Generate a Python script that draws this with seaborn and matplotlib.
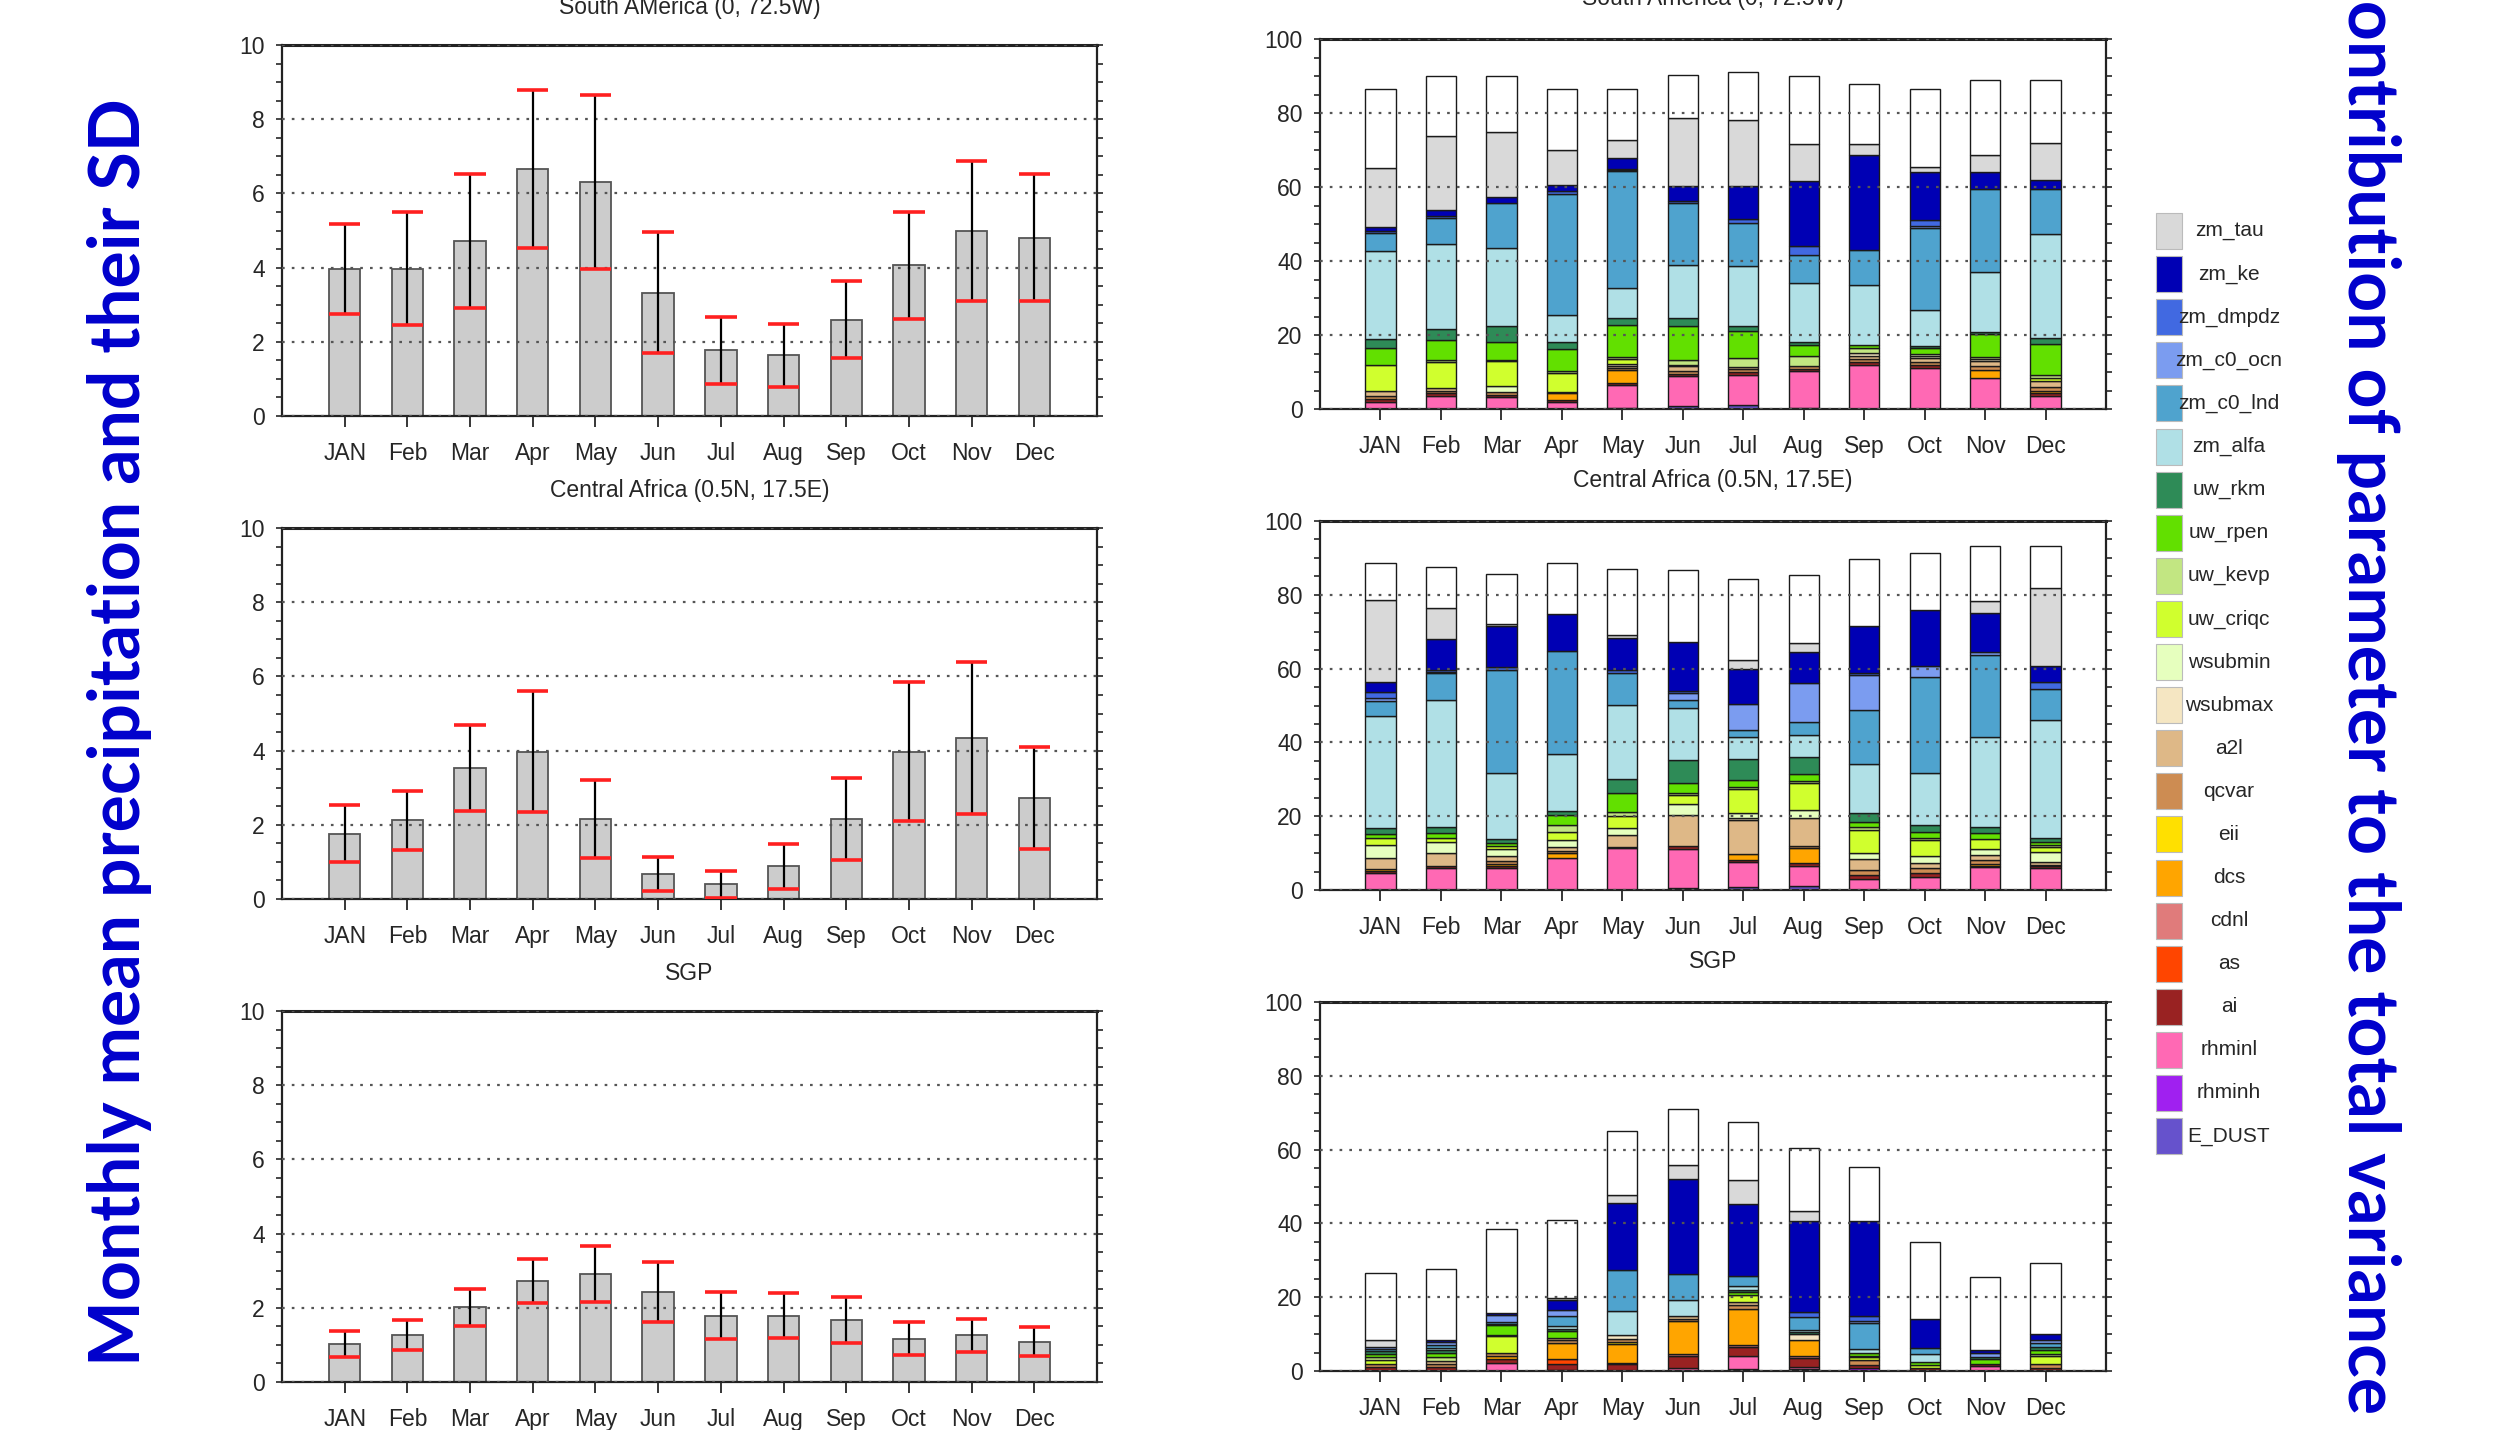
import numpy as np
import pandas as pd
import seaborn as sns
import matplotlib.pyplot as plt
from matplotlib.ticker import MultipleLocator
from matplotlib.patches import Rectangle
from matplotlib import font_manager

months = ['JAN', 'Feb', 'Mar', 'Apr', 'May', 'Jun', 'Jul', 'Aug', 'Sep', 'Oct', 'Nov', 'Dec']
left_titles = ['South AMerica (0, 72.5W)', 'Central Africa (0.5N, 17.5E)', 'SGP']
right_titles = ['South America (0, 72.5W)', 'Central Africa (0.5N, 17.5E)', 'SGP']

# monthly mean precipitation and standard deviation
sa_mean = [3.97, 3.97, 4.71, 6.66, 6.30, 3.32, 1.77, 1.64, 2.60, 4.06, 4.98, 4.80]
sa_sd = [1.21, 1.53, 1.81, 2.12, 2.35, 1.63, 0.91, 0.85, 1.05, 1.44, 1.88, 1.71]
ca_mean = [1.76, 2.12, 3.52, 3.97, 2.15, 0.67, 0.40, 0.88, 2.15, 3.97, 4.33, 2.72]
ca_sd = [0.77, 0.79, 1.16, 1.63, 1.05, 0.45, 0.36, 0.60, 1.11, 1.88, 2.05, 1.37]
sgp_mean = [1.03, 1.26, 2.02, 2.72, 2.91, 2.43, 1.79, 1.79, 1.66, 1.17, 1.26, 1.09]
sgp_sd = [0.35, 0.40, 0.50, 0.60, 0.75, 0.80, 0.64, 0.60, 0.62, 0.44, 0.44, 0.40]

# parameters, bottom of the stack first
params = ['E_DUST', 'rhminh', 'rhminl', 'ai', 'as', 'cdnl', 'dcs', 'eii', 'qcvar', 'a2l',
          'wsubmax', 'wsubmin', 'uw_criqc', 'uw_kevp', 'uw_rpen', 'uw_rkm', 'zm_alfa',
          'zm_c0_lnd', 'zm_c0_ocn', 'zm_dmpdz', 'zm_ke', 'zm_tau']

colors = {
    'zm_tau': '#D9D9D9', 'zm_ke': '#0000B4', 'zm_dmpdz': '#4169E1', 'zm_c0_ocn': '#7B9CF0',
    'zm_c0_lnd': '#4FA3CE', 'zm_alfa': '#B0E0E6', 'uw_rkm': '#2E8B57', 'uw_rpen': '#62E000',
    'uw_kevp': '#C2E682', 'uw_criqc': '#D0FF2E', 'wsubmin': '#E6FFBE', 'wsubmax': '#F5E6C2',
    'a2l': '#DEB887', 'qcvar': '#CD8C52', 'eii': '#FFE000', 'dcs': '#FFA500',
    'cdnl': '#E07B7B', 'as': '#FF4500', 'ai': '#992222', 'rhminl': '#FF69B4',
    'rhminh': '#A020F0', 'E_DUST': '#6652CC', 'other': '#FFFFFF',
}

# contribution (%) to total variance, South America
sa_parts = {
    'E_DUST':    [0, 0, 0, 0, 0.3, 0.9, 1.2, 0.3, 0, 0, 0, 0],
    'rhminh':    [0] * 12,
    'rhminl':    [2.0, 3.6, 3.2, 1.8, 6.3, 7.9, 8.1, 9.9, 12.0, 11.1, 8.4, 3.4],
    'ai':        [0.8, 0.6, 0.5, 0.6, 0.4, 0.6, 0.8, 0.6, 0.6, 0.7, 0, 0.8],
    'as':        [0] * 12,
    'cdnl':      [0] * 12,
    'dcs':       [0, 0, 0, 1.9, 3.5, 0, 0, 0, 0, 0, 2.1, 0.8],
    'eii':       [0] * 12,
    'qcvar':     [0.8, 0.7, 0.8, 0.4, 0.6, 1.0, 0.6, 0.7, 0.8, 1.0, 1.2, 1.0],
    'a2l':       [1.2, 0.8, 0, 0, 0.6, 1.1, 0.6, 0, 1.0, 1.0, 1.2, 1.5],
    'wsubmax':   [0, 0, 0, 0, 0.4, 0.5, 0, 0, 0.7, 0.6, 0.6, 0],
    'wsubmin':   [0, 0, 1.6, 0, 0, 0, 0, 0, 0, 0.6, 0, 0],
    'uw_criqc':  [7.2, 6.9, 6.8, 5.0, 1.3, 0, 0, 0, 0, 0, 0, 1.0],
    'uw_kevp':   [0, 0.6, 0.3, 0.6, 0.6, 1.3, 2.5, 2.9, 1.4, 0, 0.5, 0.8],
    'uw_rpen':   [4.5, 5.4, 4.9, 5.9, 8.8, 9.0, 7.2, 3.0, 0.9, 1.5, 6.3, 8.4],
    'uw_rkm':    [2.4, 3.0, 4.2, 1.8, 1.8, 2.3, 1.5, 0.6, 0, 0.4, 0.5, 1.5],
    'zm_alfa':   [23.7, 23.1, 21.2, 7.5, 8.1, 14.4, 16.1, 16.1, 16.2, 9.9, 16.1, 28.1],
    'zm_c0_lnd': [5.1, 6.9, 12.2, 32.6, 31.5, 16.7, 11.7, 7.6, 9.3, 22.1, 22.6, 12.2],
    'zm_c0_ocn': [0, 0, 0, 0, 0.4, 0, 0, 0, 0, 0.6, 0, 0],
    'zm_dmpdz':  [0.5, 0.5, 0, 0.8, 0.4, 0.5, 1.1, 2.4, 0, 1.5, 0, 0],
    'zm_ke':     [0.9, 1.8, 1.5, 1.7, 2.8, 4.0, 8.8, 17.4, 25.8, 13.0, 4.5, 2.5],
    'zm_tau':    [16.0, 20.0, 17.6, 9.5, 5.0, 18.4, 18.0, 10.2, 3.0, 1.3, 4.7, 10.0],
    'other':     [21.3, 16.1, 15.2, 16.4, 13.7, 11.8, 12.8, 18.3, 16.2, 21.2, 20.3, 16.8],
}

# Central Africa
ca_parts = {
    'E_DUST':    [0, 0, 0, 0, 0, 0.5, 0.9, 1.1, 0, 0, 0, 0],
    'rhminh':    [0] * 12,
    'rhminl':    [4.7, 5.9, 5.9, 8.6, 11.3, 10.5, 6.8, 5.5, 2.9, 3.6, 6.1, 5.9],
    'ai':        [0.5, 0.5, 0.5, 0, 0.4, 0.9, 0.5, 0.6, 1.2, 1.0, 0.4, 0.5],
    'as':        [0] * 12,
    'cdnl':      [0] * 12,
    'dcs':       [0.6, 0, 0.6, 1.5, 0, 0, 1.5, 4.1, 0, 0, 0.5, 0],
    'eii':       [0] * 12,
    'qcvar':     [0, 0, 0.8, 0.4, 0, 0, 0, 0.7, 1.3, 1.3, 1.0, 0.5],
    'a2l':       [2.8, 3.7, 1.4, 1.2, 3.2, 8.4, 9.4, 7.4, 2.9, 1.3, 1.5, 0.8],
    'wsubmax':   [0, 0, 0, 0, 0, 0, 0.5, 0, 0, 0, 0, 0],
    'wsubmin':   [3.6, 3.0, 1.8, 1.8, 1.8, 3.0, 1.3, 2.3, 1.8, 2.0, 1.5, 2.7],
    'uw_criqc':  [1.8, 1.1, 0.9, 2.3, 3.3, 2.4, 6.4, 7.4, 6.1, 4.3, 2.7, 1.3],
    'uw_kevp':   [0, 0, 0, 1.8, 1.2, 0.6, 0.5, 0.5, 0.8, 0.7, 0, 0.5],
    'uw_rpen':   [1.2, 1.3, 0.9, 2.7, 5.0, 2.8, 2.0, 1.8, 1.5, 1.6, 1.8, 0.9],
    'uw_rkm':    [1.5, 1.6, 0.9, 1.2, 4.0, 6.1, 5.6, 4.7, 2.3, 1.8, 1.5, 0.9],
    'zm_alfa':   [30.4, 34.5, 18.1, 15.3, 19.9, 14.0, 6.1, 6.0, 13.3, 14.2, 24.5, 32.0],
    'zm_c0_lnd': [4.1, 7.1, 27.9, 28.0, 8.6, 2.2, 1.8, 3.5, 14.6, 26.0, 22.1, 8.6],
    'zm_c0_ocn': [0.8, 0.4, 0, 0, 0, 2.0, 7.0, 10.5, 9.7, 2.8, 0.9, 0],
    'zm_dmpdz':  [1.7, 0.4, 0.8, 0, 0.8, 0.6, 0, 0, 0.4, 0, 0, 1.8],
    'zm_ke':     [2.7, 8.4, 11.0, 9.9, 8.9, 13.2, 9.7, 8.4, 12.7, 15.2, 10.6, 4.3],
    'zm_tau':    [22.3, 8.4, 0.5, 0, 0.6, 0, 2.3, 2.5, 0, 0, 3.2, 21.2],
    'other':     [10.0, 11.2, 13.7, 14.0, 17.9, 19.4, 22.1, 18.3, 18.3, 15.6, 14.8, 11.3],
}

# SGP
sgp_parts = {
    'E_DUST':    [0, 0, 0, 0, 0, 0, 0.5, 0.5, 0, 0, 0, 0],
    'rhminh':    [0, 0, 0, 0, 0, 0, 0, 0, 0.8, 0, 0, 0],
    'rhminl':    [0, 0, 2.2, 0.4, 0, 0.9, 3.7, 0.7, 0, 0, 1.4, 0],
    'ai':        [1.1, 1.0, 1.1, 1.6, 1.8, 3.1, 2.3, 2.3, 0.8, 0.8, 0.6, 0.9],
    'as':        [0, 0, 0, 1.3, 0, 0, 0, 0, 0, 0, 0, 0],
    'cdnl':      [0, 0, 0, 0, 0.5, 0.5, 0.5, 0.5, 0, 0, 0, 0],
    'dcs':       [0, 0, 0.9, 4.3, 5.1, 9.1, 9.9, 4.5, 0, 0, 0, 0],
    'eii':       [0, 0, 0, 0, 0.5, 0, 0, 0, 0, 0, 0, 0],
    'qcvar':     [0.9, 0.8, 0.8, 0.7, 0.9, 0.6, 1.0, 0, 1.3, 0, 0, 1.1],
    'a2l':       [0, 0.8, 0, 0.7, 0, 0.6, 0.8, 0, 0, 0, 0, 0],
    'wsubmax':   [0, 0, 0, 0, 0.9, 0, 0, 1.4, 0, 0, 0, 0],
    'wsubmin':   [0] * 12,
    'uw_criqc':  [0.9, 0, 4.4, 0, 0, 0, 1.8, 0, 0.9, 0.7, 0, 2.0],
    'uw_kevp':   [0.8, 1.2, 0.4, 0, 0, 0, 0, 0, 0.4, 0, 0, 0.5],
    'uw_rpen':   [1.0, 1.2, 2.6, 1.8, 0, 0, 1.0, 0, 0.6, 0.9, 1.2, 1.3],
    'uw_rkm':    [0.7, 0.8, 0, 0.5, 0, 0, 0.5, 0.6, 0, 0, 0.6, 0.7],
    'zm_alfa':   [0, 0.4, 0.4, 0.8, 6.5, 4.4, 0.9, 0.7, 1.2, 2.3, 0, 0],
    'zm_c0_lnd': [0.6, 0.8, 0.5, 2.7, 11.3, 7.0, 2.8, 3.3, 7.0, 1.6, 0, 1.0],
    'zm_c0_ocn': [0.5, 0.9, 1.8, 1.6, 0, 0, 0, 0, 0.5, 0, 1.1, 0.8],
    'zm_dmpdz':  [0, 0, 0, 0, 0, 0, 0, 1.5, 1.3, 0, 0, 0],
    'zm_ke':     [0, 0.6, 0.6, 2.9, 18.0, 25.7, 19.5, 24.7, 25.9, 7.9, 0.7, 1.6],
    'zm_tau':    [1.8, 0, 0, 0.4, 2.1, 3.8, 6.5, 2.7, 0, 0, 0, 0],
    'other':     [18.3, 19.1, 22.9, 21.1, 17.4, 15.3, 15.8, 17.1, 14.6, 20.8, 19.9, 19.4],
}

sns.set_style('white')
installed = {f.name for f in font_manager.fontManager.ttflist}
if 'Liberation Sans Narrow' in installed:
    tick_font, tick_size = 'Liberation Sans Narrow', 19
else:
    tick_font, tick_size = 'Liberation Sans', 16.5
plt.rcParams['font.family'] = [tick_font, 'DejaVu Sans']

W, H = 2499, 1430
fig = plt.figure(figsize=(W / 100, H / 100), dpi=100)
fig.patch.set_facecolor('white')


def px_box(x0, top, x1, bottom):
    return [x0 / W, 1 - bottom / H, (x1 - x0) / W, (bottom - top) / H]


def style_axes(ax, ymax, ystep, yminor, title, title_off):
    ax.set_xlim(-1, 12)
    ax.set_ylim(0, ymax)
    ax.set_yticks(np.arange(0, ymax + 1, ystep))
    ax.yaxis.set_minor_locator(MultipleLocator(yminor))
    ax.set_xlabel('')
    ax.set_ylabel('')
    ax.tick_params(axis='y', which='both', direction='out', length=4.5, width=1.2,
                   left=True, right=True, labelsize=tick_size, pad=8)
    ax.tick_params(axis='x', which='both', direction='out', length=8, width=1.3,
                   bottom=True, top=False, labelsize=tick_size, pad=11)
    ax.set_axisbelow(False)
    ax.yaxis.grid(True, which='major', linestyle=(0, (1.2, 3.2)), color='#555555', linewidth=1.6)
    ax.xaxis.grid(False)
    for s in ax.spines.values():
        s.set_linewidth(1.6)
        s.set_color('#222222')
    ax.spines['top'].set_linewidth(2.2)
    ax.annotate(title, xy=(0.5, 1), xycoords='axes fraction', xytext=(0, title_off),
                textcoords='offset points', ha='center', va='center', fontsize=tick_size)


def draw_precip(ax, mean, sd):
    df = pd.DataFrame({'month': months, 'mean': mean})
    sns.barplot(data=df, x='month', y='mean', order=months, color='#CCCCCC', saturation=1,
                width=0.5, edgecolor='#555555', linewidth=1.3, errorbar=None, ax=ax)
    m = np.asarray(mean)
    s = np.asarray(sd)
    x = np.arange(len(months))
    ax.vlines(x, m - s, m + s, color='black', linewidth=1.6, zorder=4)
    ax.hlines(m + s, x - 0.25, x + 0.25, color='#FF2020', linewidth=2.6, zorder=5)
    ax.hlines(m - s, x - 0.25, x + 0.25, color='#FF2020', linewidth=2.6, zorder=5)


def draw_stack(ax, parts):
    base = np.zeros(len(months))
    for name in params + ['other']:
        vals = np.asarray(parts[name], dtype=float)
        keep = vals > 0
        if keep.any():
            sub = pd.DataFrame({'month': np.array(months)[keep], 'value': vals[keep]})
            sns.barplot(data=sub, x='month', y='value', order=months, color=colors[name],
                        saturation=1, width=0.5, bottom=base[keep], edgecolor='#1a1a1a',
                        linewidth=1.0, errorbar=None, ax=ax)
        base += vals


left_rows = [(45, 416), (528, 899), (1011, 1382)]
right_rows = [(39, 409), (521, 890), (1002, 1371)]
precip = [(sa_mean, sa_sd), (ca_mean, ca_sd), (sgp_mean, sgp_sd)]
stacks = [sa_parts, ca_parts, sgp_parts]

for i in range(3):
    axl = fig.add_axes(px_box(282, left_rows[i][0], 1097, left_rows[i][1]))
    draw_precip(axl, *precip[i])
    style_axes(axl, 10, 2, 0.5, left_titles[i], 27)

    axr = fig.add_axes(px_box(1320, right_rows[i][0], 2106, right_rows[i][1]))
    draw_stack(axr, stacks[i])
    style_axes(axr, 100, 20, 5, right_titles[i], 29)

# legend, top row first
lax = fig.add_axes(px_box(2140, 190, 2330, 1180))
lax.set_xlim(2140, 2330)
lax.set_ylim(1180, 190)
lax.axis('off')
for k, name in enumerate(params[::-1]):
    yc = 231 + k * 43.1
    lax.add_patch(Rectangle((2156, yc - 18), 26, 36, facecolor=colors[name],
                            edgecolor='#BBBBBB', linewidth=0.8))
    lax.text(2229, yc, name, ha='center', va='center', fontsize=15, family='Liberation Sans')

# big side labels
left_lab = fig.text(140 / W, 1 - 1366 / H, 'Monthly mean precipitation and their SD',
                    rotation=90, rotation_mode='anchor', ha='left', va='baseline',
                    fontsize=50, fontweight='bold', color='#0000CC', family=['Lato', 'DejaVu Sans'])
fig.canvas.draw()
ext = left_lab.get_window_extent()
big = 50 * 1270 / ext.height
left_lab.set_fontsize(big)

fig.text(2348 / W, 1 - 1414 / H, 'contribution of parameter to the total variance',
         rotation=-90, rotation_mode='anchor', ha='right', va='baseline',
         fontsize=big, fontweight='bold', color='#0000CC', family=['Lato', 'DejaVu Sans'])

fig.savefig('out.png', dpi=100, facecolor='white')
